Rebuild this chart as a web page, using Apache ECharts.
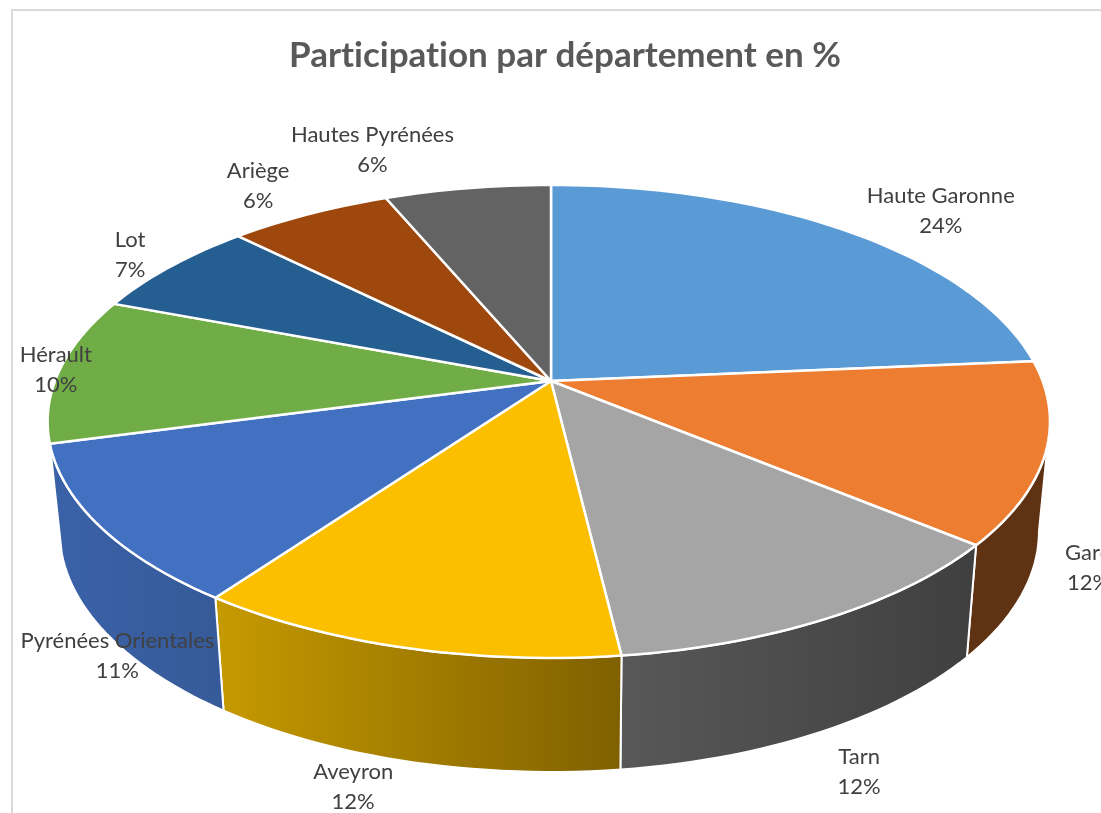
<!DOCTYPE html>
<html>
<head>
<meta charset="utf-8">
<style>html,body{margin:0;padding:0;background:#fff;overflow:hidden}#c{width:1101px;height:813px}</style>
<script src="https://cdn.jsdelivr.net/npm/echarts@6/dist/echarts.min.js"></script>
</head>
<body>
<div id="c"></div>
<script>
// Data (share of the pie, in %)
const categories = ['Haute Garonne','Gard','Tarn','Aveyron','Pyrénées Orientales','Hérault','Lot','Ariège','Hautes Pyrénées'];
const shares = [23.6,12.4,12.1,11.8,10.9,10.0,6.7,6.2,6.3];
const chartTitle = 'Participation par département en %';

// Styles
const topColors = ['#5b9bd5','#ed7d31','#a5a5a5','#fcbf00','#4371c2','#70ad47','#255e91','#9e480e','#636363'];
const wallColors = [null,['#5f3213','#5f3213'],['#585858','#3f3f3f'],['#c69a00','#7f6000'],['#3a62a8','#365a98'],null,null,null,null];
const labelNudge = [[95,-20],[43,115],[31,154],[-50,139],[18,130],[-4,0],[-40,-12],[-51,-28],[-95,-38]];

// Perspective disc
const disc = {cx:551, cy:381, rxRight:491.6, rxLeft:496, ry:229.6, k:0.171};
const base = {cx:551.5, cy:490, sx:0.977, sy:1.018};
const wallFrom = 99.8, wallTo = 254.9;
const total = shares.reduce((a,b)=>a+b,0);
const sweep = [];
shares.reduce((acc,v)=>{ sweep.push([acc/total*360,(acc+v)/total*360]); return acc+v; },0);

function rim(deg, lower){
  const t = deg*Math.PI/180, u = Math.sin(t), v = -Math.cos(t), d = 1-disc.k*v;
  const X = (u<0?disc.rxLeft:disc.rxRight)*u/d, Y = disc.ry*v/d;
  return lower ? [base.cx+base.sx*X, base.cy+base.sy*Y] : [disc.cx+X, disc.cy+Y];
}
function arc(a,b,lower){
  const n = Math.max(2,Math.ceil(Math.abs(b-a)/1.5)), pts=[];
  for(let i=0;i<=n;i++) pts.push(rim(a+(b-a)*i/n,lower));
  return pts;
}
// The reference's font shows no "ti" ligature
const nativeGetContext = HTMLCanvasElement.prototype.getContext;
HTMLCanvasElement.prototype.getContext = function(){
  const ctx = nativeGetContext.apply(this,arguments);
  if(ctx && 'textRendering' in ctx) ctx.textRendering='optimizeSpeed';
  return ctx;
};
const chart = echarts.init(document.getElementById('c'),null,{renderer:'canvas'});
const fontFamily = 'Lato, Carlito, sans-serif';
chart.setOption({
  animation:false,
  backgroundColor:'#fff',
  title:{text:chartTitle,left:560,top:33,textAlign:'center',
    textStyle:{fontFamily,fontSize:35,fontWeight:'bold',color:'#595959'}},
  tooltip:{show:false},
  graphic:[{type:'rect',silent:true,z:-1,shape:{x:12,y:10,width:1300,height:1000},
    style:{fill:'none',stroke:'#d9d9d9',lineWidth:2}}],
  series:[
    {type:'custom',coordinateSystem:'none',silent:true,z:1,data:shares,
     renderItem(p){
       const i=p.dataIndex, c=wallColors[i], a=Math.max(sweep[i][0],wallFrom), b=Math.min(sweep[i][1],wallTo);
       if(!c||b<=a) return {type:'group',children:[]};
       const points=arc(a,b,false).concat(arc(b,a,true));
       return {type:'polygon',shape:{points},style:{
         fill:new echarts.graphic.LinearGradient(0,0,1,0,[{offset:0,color:c[0]},{offset:1,color:c[1]}]),
         stroke:'#fff',lineWidth:2,lineJoin:'round'}};
     }},
    {type:'custom',coordinateSystem:'none',silent:true,z:2,data:shares,
     renderItem(p){
       const i=p.dataIndex;
       const points=[[disc.cx,disc.cy]].concat(arc(sweep[i][0],sweep[i][1],false));
       return {type:'polygon',shape:{points},style:{fill:topColors[i],stroke:'#fff',lineWidth:2.5,lineJoin:'round'}};
     }},
    {type:'custom',coordinateSystem:'none',silent:true,z:3,data:shares,
     renderItem(p){
       const i=p.dataIndex, m=rim((sweep[i][0]+sweep[i][1])/2,false);
       return {type:'text',style:{text:categories[i]+'\n'+Math.round(shares[i])+'%',
         x:m[0]+labelNudge[i][0],y:m[1]+labelNudge[i][1],
         align:'center',verticalAlign:'middle',lineHeight:30,
         fontFamily,fontSize:22,fill:'#404040'}};
     }}
  ]
});
</script>
</body>
</html>
